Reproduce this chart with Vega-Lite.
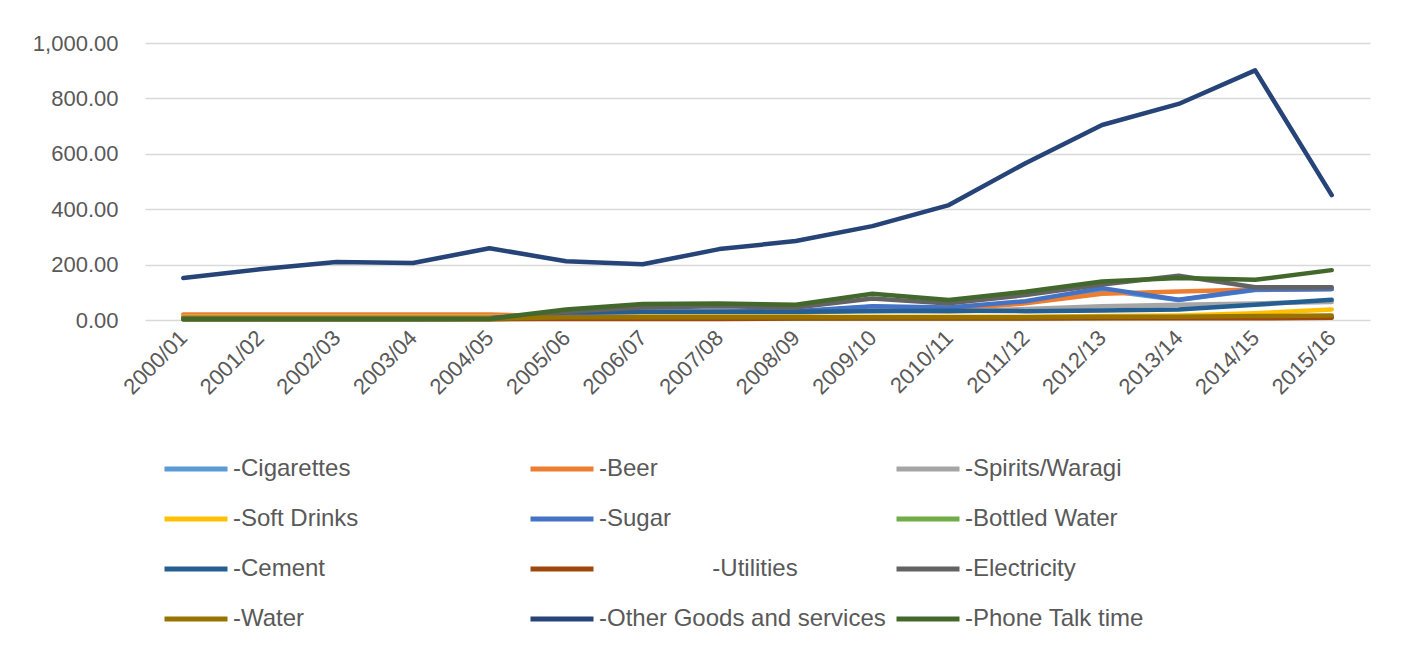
{
  "$schema": "https://vega.github.io/schema/vega-lite/v6.json",
  "autosize": "none",
  "width": 1225,
  "height": 277,
  "padding": {"left": 145, "top": 43, "right": 33, "bottom": 330},
  "background": "white",
  "config": {
    "view": {"stroke": null},
    "font": "Liberation Sans"
  },
  "data": {"values": [
    {"year":"2000/01","series":"-Cigarettes","value":8},{"year":"2001/02","series":"-Cigarettes","value":8},{"year":"2002/03","series":"-Cigarettes","value":8},{"year":"2003/04","series":"-Cigarettes","value":8},{"year":"2004/05","series":"-Cigarettes","value":8},{"year":"2005/06","series":"-Cigarettes","value":22},{"year":"2006/07","series":"-Cigarettes","value":28},{"year":"2007/08","series":"-Cigarettes","value":30},{"year":"2008/09","series":"-Cigarettes","value":30},{"year":"2009/10","series":"-Cigarettes","value":48},{"year":"2010/11","series":"-Cigarettes","value":42},{"year":"2011/12","series":"-Cigarettes","value":62},{"year":"2012/13","series":"-Cigarettes","value":108},{"year":"2013/14","series":"-Cigarettes","value":72},{"year":"2014/15","series":"-Cigarettes","value":108},{"year":"2015/16","series":"-Cigarettes","value":112},
    {"year":"2000/01","series":"-Beer","value":20},{"year":"2001/02","series":"-Beer","value":20},{"year":"2002/03","series":"-Beer","value":20},{"year":"2003/04","series":"-Beer","value":20},{"year":"2004/05","series":"-Beer","value":20},{"year":"2005/06","series":"-Beer","value":12},{"year":"2006/07","series":"-Beer","value":14},{"year":"2007/08","series":"-Beer","value":18},{"year":"2008/09","series":"-Beer","value":25},{"year":"2009/10","series":"-Beer","value":42},{"year":"2010/11","series":"-Beer","value":38},{"year":"2011/12","series":"-Beer","value":60},{"year":"2012/13","series":"-Beer","value":95},{"year":"2013/14","series":"-Beer","value":103},{"year":"2014/15","series":"-Beer","value":110},{"year":"2015/16","series":"-Beer","value":112},
    {"year":"2000/01","series":"-Spirits/Waragi","value":6},{"year":"2001/02","series":"-Spirits/Waragi","value":6},{"year":"2002/03","series":"-Spirits/Waragi","value":6},{"year":"2003/04","series":"-Spirits/Waragi","value":6},{"year":"2004/05","series":"-Spirits/Waragi","value":6},{"year":"2005/06","series":"-Spirits/Waragi","value":15},{"year":"2006/07","series":"-Spirits/Waragi","value":20},{"year":"2007/08","series":"-Spirits/Waragi","value":22},{"year":"2008/09","series":"-Spirits/Waragi","value":25},{"year":"2009/10","series":"-Spirits/Waragi","value":35},{"year":"2010/11","series":"-Spirits/Waragi","value":30},{"year":"2011/12","series":"-Spirits/Waragi","value":40},{"year":"2012/13","series":"-Spirits/Waragi","value":50},{"year":"2013/14","series":"-Spirits/Waragi","value":55},{"year":"2014/15","series":"-Spirits/Waragi","value":60},{"year":"2015/16","series":"-Spirits/Waragi","value":65},
    {"year":"2000/01","series":"-Soft Drinks","value":12},{"year":"2001/02","series":"-Soft Drinks","value":12},{"year":"2002/03","series":"-Soft Drinks","value":12},{"year":"2003/04","series":"-Soft Drinks","value":12},{"year":"2004/05","series":"-Soft Drinks","value":12},{"year":"2005/06","series":"-Soft Drinks","value":12},{"year":"2006/07","series":"-Soft Drinks","value":12},{"year":"2007/08","series":"-Soft Drinks","value":12},{"year":"2008/09","series":"-Soft Drinks","value":12},{"year":"2009/10","series":"-Soft Drinks","value":12},{"year":"2010/11","series":"-Soft Drinks","value":12},{"year":"2011/12","series":"-Soft Drinks","value":12},{"year":"2012/13","series":"-Soft Drinks","value":14},{"year":"2013/14","series":"-Soft Drinks","value":16},{"year":"2014/15","series":"-Soft Drinks","value":24},{"year":"2015/16","series":"-Soft Drinks","value":38},
    {"year":"2000/01","series":"-Sugar","value":8},{"year":"2001/02","series":"-Sugar","value":8},{"year":"2002/03","series":"-Sugar","value":8},{"year":"2003/04","series":"-Sugar","value":8},{"year":"2004/05","series":"-Sugar","value":8},{"year":"2005/06","series":"-Sugar","value":24},{"year":"2006/07","series":"-Sugar","value":30},{"year":"2007/08","series":"-Sugar","value":30},{"year":"2008/09","series":"-Sugar","value":32},{"year":"2009/10","series":"-Sugar","value":50},{"year":"2010/11","series":"-Sugar","value":45},{"year":"2011/12","series":"-Sugar","value":68},{"year":"2012/13","series":"-Sugar","value":115},{"year":"2013/14","series":"-Sugar","value":73},{"year":"2014/15","series":"-Sugar","value":110},{"year":"2015/16","series":"-Sugar","value":112},
    {"year":"2000/01","series":"-Bottled Water","value":3},{"year":"2001/02","series":"-Bottled Water","value":3},{"year":"2002/03","series":"-Bottled Water","value":3},{"year":"2003/04","series":"-Bottled Water","value":3},{"year":"2004/05","series":"-Bottled Water","value":3},{"year":"2005/06","series":"-Bottled Water","value":5},{"year":"2006/07","series":"-Bottled Water","value":5},{"year":"2007/08","series":"-Bottled Water","value":5},{"year":"2008/09","series":"-Bottled Water","value":5},{"year":"2009/10","series":"-Bottled Water","value":6},{"year":"2010/11","series":"-Bottled Water","value":6},{"year":"2011/12","series":"-Bottled Water","value":6},{"year":"2012/13","series":"-Bottled Water","value":7},{"year":"2013/14","series":"-Bottled Water","value":8},{"year":"2014/15","series":"-Bottled Water","value":8},{"year":"2015/16","series":"-Bottled Water","value":10},
    {"year":"2000/01","series":"-Cement","value":5},{"year":"2001/02","series":"-Cement","value":5},{"year":"2002/03","series":"-Cement","value":5},{"year":"2003/04","series":"-Cement","value":5},{"year":"2004/05","series":"-Cement","value":5},{"year":"2005/06","series":"-Cement","value":28},{"year":"2006/07","series":"-Cement","value":30},{"year":"2007/08","series":"-Cement","value":30},{"year":"2008/09","series":"-Cement","value":30},{"year":"2009/10","series":"-Cement","value":32},{"year":"2010/11","series":"-Cement","value":33},{"year":"2011/12","series":"-Cement","value":32},{"year":"2012/13","series":"-Cement","value":34},{"year":"2013/14","series":"-Cement","value":38},{"year":"2014/15","series":"-Cement","value":55},{"year":"2015/16","series":"-Cement","value":73},
    {"year":"2000/01","series":"-Utilities","value":3},{"year":"2001/02","series":"-Utilities","value":3},{"year":"2002/03","series":"-Utilities","value":3},{"year":"2003/04","series":"-Utilities","value":3},{"year":"2004/05","series":"-Utilities","value":3},{"year":"2005/06","series":"-Utilities","value":4},{"year":"2006/07","series":"-Utilities","value":4},{"year":"2007/08","series":"-Utilities","value":4},{"year":"2008/09","series":"-Utilities","value":5},{"year":"2009/10","series":"-Utilities","value":5},{"year":"2010/11","series":"-Utilities","value":5},{"year":"2011/12","series":"-Utilities","value":5},{"year":"2012/13","series":"-Utilities","value":6},{"year":"2013/14","series":"-Utilities","value":6},{"year":"2014/15","series":"-Utilities","value":6},{"year":"2015/16","series":"-Utilities","value":8},
    {"year":"2000/01","series":"-Electricity","value":5},{"year":"2001/02","series":"-Electricity","value":5},{"year":"2002/03","series":"-Electricity","value":5},{"year":"2003/04","series":"-Electricity","value":5},{"year":"2004/05","series":"-Electricity","value":5},{"year":"2005/06","series":"-Electricity","value":30},{"year":"2006/07","series":"-Electricity","value":45},{"year":"2007/08","series":"-Electricity","value":50},{"year":"2008/09","series":"-Electricity","value":45},{"year":"2009/10","series":"-Electricity","value":78},{"year":"2010/11","series":"-Electricity","value":60},{"year":"2011/12","series":"-Electricity","value":90},{"year":"2012/13","series":"-Electricity","value":128},{"year":"2013/14","series":"-Electricity","value":160},{"year":"2014/15","series":"-Electricity","value":118},{"year":"2015/16","series":"-Electricity","value":118},
    {"year":"2000/01","series":"-Water","value":5},{"year":"2001/02","series":"-Water","value":5},{"year":"2002/03","series":"-Water","value":5},{"year":"2003/04","series":"-Water","value":5},{"year":"2004/05","series":"-Water","value":5},{"year":"2005/06","series":"-Water","value":10},{"year":"2006/07","series":"-Water","value":10},{"year":"2007/08","series":"-Water","value":10},{"year":"2008/09","series":"-Water","value":10},{"year":"2009/10","series":"-Water","value":10},{"year":"2010/11","series":"-Water","value":10},{"year":"2011/12","series":"-Water","value":10},{"year":"2012/13","series":"-Water","value":12},{"year":"2013/14","series":"-Water","value":12},{"year":"2014/15","series":"-Water","value":14},{"year":"2015/16","series":"-Water","value":16},
    {"year":"2000/01","series":"-Other Goods and services","value":152},{"year":"2001/02","series":"-Other Goods and services","value":183},{"year":"2002/03","series":"-Other Goods and services","value":209},{"year":"2003/04","series":"-Other Goods and services","value":206},{"year":"2004/05","series":"-Other Goods and services","value":259},{"year":"2005/06","series":"-Other Goods and services","value":212},{"year":"2006/07","series":"-Other Goods and services","value":201},{"year":"2007/08","series":"-Other Goods and services","value":256},{"year":"2008/09","series":"-Other Goods and services","value":285},{"year":"2009/10","series":"-Other Goods and services","value":339},{"year":"2010/11","series":"-Other Goods and services","value":415},{"year":"2011/12","series":"-Other Goods and services","value":566},{"year":"2012/13","series":"-Other Goods and services","value":704},{"year":"2013/14","series":"-Other Goods and services","value":780},{"year":"2014/15","series":"-Other Goods and services","value":901},{"year":"2015/16","series":"-Other Goods and services","value":451},
    {"year":"2000/01","series":"-Phone Talk time","value":3},{"year":"2001/02","series":"-Phone Talk time","value":3},{"year":"2002/03","series":"-Phone Talk time","value":3},{"year":"2003/04","series":"-Phone Talk time","value":3},{"year":"2004/05","series":"-Phone Talk time","value":4},{"year":"2005/06","series":"-Phone Talk time","value":38},{"year":"2006/07","series":"-Phone Talk time","value":58},{"year":"2007/08","series":"-Phone Talk time","value":60},{"year":"2008/09","series":"-Phone Talk time","value":55},{"year":"2009/10","series":"-Phone Talk time","value":95},{"year":"2010/11","series":"-Phone Talk time","value":72},{"year":"2011/12","series":"-Phone Talk time","value":102},{"year":"2012/13","series":"-Phone Talk time","value":139},{"year":"2013/14","series":"-Phone Talk time","value":152},{"year":"2014/15","series":"-Phone Talk time","value":145},{"year":"2015/16","series":"-Phone Talk time","value":180}
  ]},
  "mark": {"type": "line", "strokeWidth": 4.5, "strokeCap": "round", "strokeJoin": "round"},
  "encoding": {
    "x": {
      "field": "year", "type": "ordinal", "sort": null,
      "scale": {"type": "point", "padding": 0.5},
      "axis": {
        "title": null, "domain": false, "ticks": false, "grid": false,
        "labelAngle": -45, "labelAlign": "right", "labelBaseline": "middle",
        "labelPadding": 14, "labelFontSize": 22, "labelColor": "#595959", "labelFont": "Liberation Sans"
      }
    },
    "y": {
      "field": "value", "type": "quantitative",
      "scale": {"domain": [0, 1000], "nice": false},
      "axis": {
        "title": null, "domain": false, "ticks": false,
        "values": [0, 200, 400, 600, 800, 1000], "format": ",.2f",
        "labelPadding": 27, "labelFontSize": 22, "labelColor": "#595959", "labelFont": "Liberation Sans",
        "gridColor": "#d9d9d9", "gridWidth": 1.5
      }
    },
    "color": {
      "field": "series", "type": "nominal",
      "scale": {
        "domain": ["-Cigarettes", "-Beer", "-Spirits/Waragi", "-Soft Drinks", "-Sugar", "-Bottled Water", "-Cement", "-Utilities", "-Electricity", "-Water", "-Other Goods and services", "-Phone Talk time"],
        "range": ["#5B9BD5", "#ED7D31", "#A5A5A5", "#FFC000", "#4472C4", "#70AD47", "#255E91", "#9E480E", "#636363", "#997300", "#264478", "#43682B"]
      },
      "legend": {
        "title": null, "orient": "none", "legendX": 17, "legendY": 392,
        "direction": "horizontal", "columns": 3, "gridAlign": "all",
        "columnPadding": 0, "rowPadding": 4,
        "symbolType": "stroke", "symbolSize": 3969, "symbolStrokeWidth": 5,
        "labelOffset": 3, "labelFontSize": 24, "labelColor": "#595959", "labelFont": "Liberation Sans",
        "labelLimit": 400,
        "labelExpr": "datum.label == '-Utilities' ? '\u200b\u00a0\u00a0\u00a0\u00a0\u00a0\u00a0\u00a0\u00a0\u00a0\u00a0\u00a0\u00a0\u00a0\u00a0\u00a0\u00a0\u00a0-Utilities' : datum.label"
      }
    }
  }
}
